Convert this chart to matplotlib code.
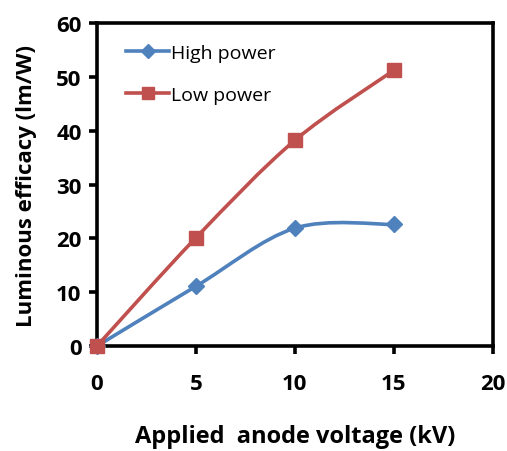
import numpy as np
import matplotlib.pyplot as plt
from matplotlib.path import Path
from matplotlib.patches import PathPatch

plt.rcParams['font.family'] = ['Open Sans', 'DejaVu Sans']

voltage = [0, 5, 10, 15]
high_power = [0, 11.1, 21.9, 22.6]
low_power = [0, 20.1, 38.2, 51.2]
blue = '#4F81BD'
red = '#C0504D'


def smooth_path(x, y):
    # Excel-like smoothed line: cubic Bezier segments with Catmull-Rom tangents
    x = np.asarray(x, float)
    y = np.asarray(y, float)
    n = len(x)
    verts = [(x[0], y[0])]
    codes = [Path.MOVETO]
    for i in range(n - 1):
        p0 = i - 1 if i > 0 else i
        p3 = i + 2 if i + 2 < n else i + 1
        c1 = (x[i] + (x[i + 1] - x[p0]) / 6, y[i] + (y[i + 1] - y[p0]) / 6)
        c2 = (x[i + 1] - (x[p3] - x[i]) / 6, y[i + 1] - (y[p3] - y[i]) / 6)
        verts += [c1, c2, (x[i + 1], y[i + 1])]
        codes += [Path.CURVE4] * 3
    return Path(verts, codes)


fig = plt.figure(figsize=(5.07, 4.52), dpi=100)
ax = fig.add_axes([0.191, 0.232, 0.781, 0.715])

for vals, col, mk, ms, lab in [(high_power, blue, 'D', 8, 'High power'),
                               (low_power, red, 's', 10.5, 'Low power')]:
    ax.add_patch(PathPatch(smooth_path(voltage, vals), fill=False, edgecolor=col,
                           lw=2.6, capstyle='round', zorder=2, clip_on=False))
    ax.plot(voltage, vals, linestyle='none', marker=mk, ms=ms, color=col,
            zorder=3, clip_on=False)
    ax.plot([], [], color=col, lw=2.6, marker=mk, ms=ms * 0.85, label=lab)

ax.set_xlim(0, 20)
ax.set_ylim(0, 60)
ax.set_xticks([0, 5, 10, 15, 20])
ax.set_xticklabels(['0', '5', '10', '15', '20'], fontweight='bold', fontsize=16)
ax.set_yticks(range(0, 61, 10))
ax.set_yticklabels([str(v) for v in range(0, 61, 10)], fontweight='bold', fontsize=16)
for s in ax.spines.values():
    s.set_linewidth(2.6)
ax.tick_params(direction='out', length=6, width=2.6, pad=5)
ax.tick_params(axis='x', pad=13)

ax.set_xlabel('Applied  anode voltage (kV)', fontsize=17, fontweight='bold', labelpad=22)
ax.set_ylabel('Luminous efficacy (lm/W)', fontsize=16, fontweight='bold', labelpad=14)

ax.legend(loc='upper left', frameon=False, prop={'size': 14, 'weight': 'normal'},
          handlelength=2.2, handletextpad=0.1, labelspacing=1.25,
          bbox_to_anchor=(0.03, 0.99))

fig.savefig('out.png', dpi=100)
